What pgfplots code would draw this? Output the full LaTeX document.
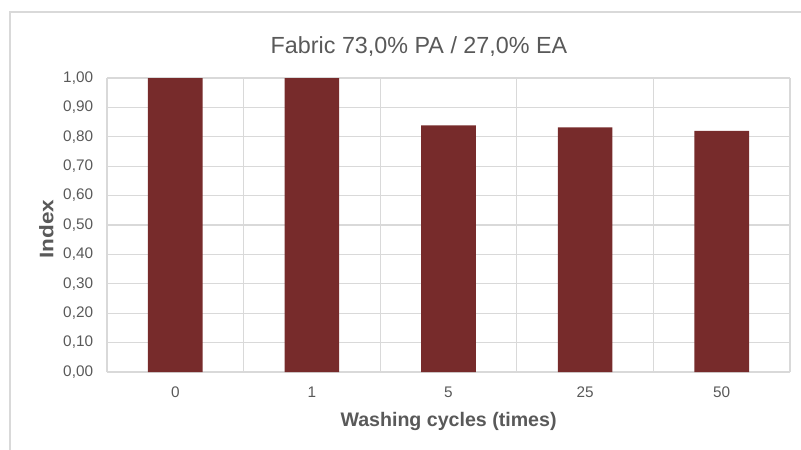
\documentclass[border=0pt]{standalone}
\usepackage{pgfplots}
\pgfplotsset{compat=1.18}
\usepackage{fontspec}
\setmainfont{Liberation Sans}
\definecolor{barred}{HTML}{772B2B}
\definecolor{gridgray}{HTML}{D9D9D9}
\definecolor{txtgray}{HTML}{595959}
\begin{document}
\begin{tikzpicture}
\useasboundingbox (0,0) rectangle (600.75pt,-337.5pt);
\draw[gridgray, line width=0.9pt] (7.5pt,-340pt) -- (7.5pt,-9pt) -- (603pt,-9pt);
\node[txtgray, font=\fontsize{17.5}{21}\selectfont, anchor=base] at (314.25pt,-39.75pt) {Fabric 73,0\% PA / 27,0\% EA};
\begin{axis}[
  at={(80.25pt,-279pt)}, anchor=south west,
  width=512.25pt, height=220.5pt, scale only axis,
  xmin=-0.5, xmax=4.5, ymin=0, ymax=1,
  xtick={0,1,2,3,4}, xticklabels={0,1,5,25,50},
  ytick={0,0.1,0.2,0.3,0.4,0.5,0.6,0.7,0.8,0.9,1.0},
  minor xtick={0.5,1.5,2.5,3.5,4.5},
  xminorgrids, ymajorgrids,
  grid style={gridgray, line width=0.9pt},
  minor grid style={gridgray, line width=0.9pt},
  axis x line*=bottom, axis y line*=left,
  axis line style={gridgray, line width=0.9pt, -},
  major tick length=0pt, minor tick length=0pt,
  tick label style={txtgray, font=\fontsize{11.5}{13}\selectfont},
  /pgf/number format/assume math mode=true,
  yticklabel style={/pgf/number format/fixed, /pgf/number format/precision=2,
    /pgf/number format/fixed zerofill, /pgf/number format/use comma, xshift=-6.9pt},
  xticklabel style={yshift=-7.4pt},
  ybar, bar width=0.4, 
]
\addplot[fill=barred, draw=none] coordinates {(0,1.00) (1,1.00) (2,0.839) (3,0.832) (4,0.82)};
\end{axis}
\node[txtgray, font=\fontsize{14.7}{17}\selectfont\bfseries, anchor=base] at (336.4pt,-319.5pt) {Washing cycles (times)};
\node[txtgray, font=\fontsize{14.7}{17}\selectfont\bfseries, anchor=base, rotate=90, xscale=1.15] at (40pt,-172pt) {Index};
\end{tikzpicture}
\end{document}
